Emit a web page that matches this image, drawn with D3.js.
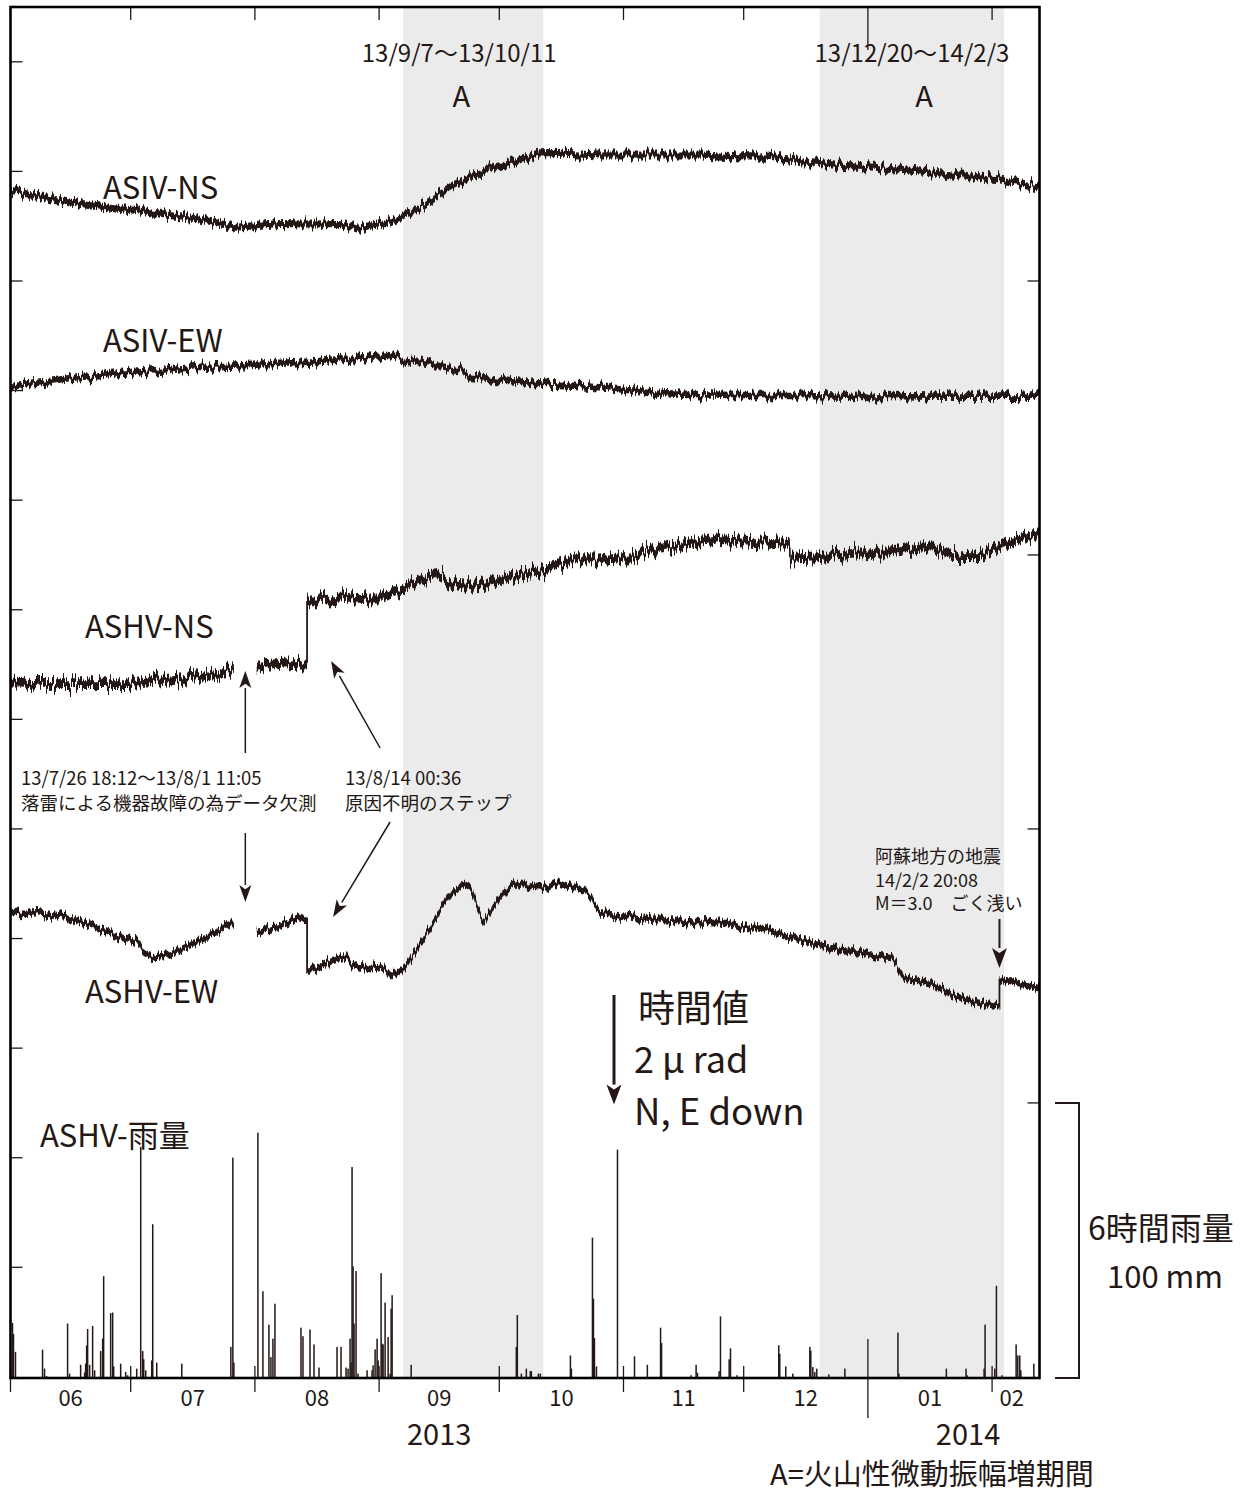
<!DOCTYPE html>
<html>
<head>
<meta charset="utf-8">
<script src="https://cdn.jsdelivr.net/npm/d3@7"></script>
<style>
  body { margin: 0; background: #fff; }
  svg text { font-family: "Noto Sans CJK JP", "Noto Sans", sans-serif; fill: #231815; }
</style>
</head>
<body>
<svg id="chart" width="1247" height="1493"></svg>
<script>
// ---- Tilt records (µrad change, positive = north / east down) ----
const traceNames = ["ASIV-NS", "ASIV-EW", "ASHV-NS", "ASHV-EW"];
// position of each record's first sample on the stacked µrad axis
const traceOffsets = [3.34, 6.93, 12.34, 16.54];
// half width of the short-period scatter around each record (µrad)
const traceScatter = [0.065, 0.06, 0.08, 0.06];

const asivNsDates = ["2013-06-01","2013-06-08","2013-06-15","2013-06-23","2013-07-01","2013-07-10","2013-07-18","2013-07-25","2013-07-27","2013-07-31","2013-08-07","2013-08-15","2013-08-22","2013-08-27","2013-08-30","2013-09-04","2013-09-09","2013-09-14","2013-09-19","2013-09-24","2013-09-29","2013-10-06","2013-10-11","2013-10-17","2013-10-26","2013-11-03","2013-11-11","2013-11-20","2013-11-28","2013-12-07","2013-12-15","2013-12-23","2013-12-31","2014-01-09","2014-01-17","2014-01-25","2014-02-03","2014-02-09","2014-02-12 20:00"];
const asivNsValues = [0,0.12,0.21,0.29,0.36,0.46,0.53,0.64,0.68,0.66,0.61,0.62,0.61,0.70,0.64,0.58,0.40,0.18,-0.06,-0.24,-0.40,-0.55,-0.66,-0.67,-0.64,-0.64,-0.64,-0.64,-0.61,-0.60,-0.52,-0.46,-0.43,-0.38,-0.33,-0.27,-0.20,-0.12,-0.07];

const asivEwDates = ["2013-06-01","2013-06-15","2013-07-01","2013-07-18","2013-08-04","2013-08-15","2013-08-25","2013-09-02","2013-09-06","2013-09-12","2013-09-21","2013-09-24","2013-10-01","2013-10-09","2013-10-17","2013-10-26","2013-11-03","2013-11-11","2013-11-28","2013-12-15","2013-12-31","2014-01-03","2014-01-06","2014-01-17","2014-02-03","2014-02-12 20:00"];
const asivEwValues = [0,-0.15,-0.27,-0.36,-0.41,-0.44,-0.50,-0.55,-0.52,-0.43,-0.32,-0.18,-0.12,-0.07,-0.03,0.01,0.07,0.12,0.15,0.15,0.17,0.22,0.17,0.18,0.18,0.18];

// null marks the outage 13/7/26 18:12 - 13/8/1 11:05
const ashvNsDates = ["2013-06-01","2013-06-15","2013-07-01","2013-07-11","2013-07-18","2013-07-23","2013-07-26 18:12","2013-07-29 00:00","2013-08-01 11:05","2013-08-07","2013-08-14 00:36","2013-08-14 00:37","2013-08-17","2013-08-25","2013-09-02","2013-09-06","2013-09-12","2013-09-15","2013-09-19","2013-09-26","2013-10-03","2013-10-09","2013-10-14","2013-10-19","2013-10-26","2013-11-03","2013-11-10","2013-11-18","2013-11-25","2013-12-05","2013-12-12 12:00","2013-12-12 13:00","2013-12-20","2013-12-28","2014-01-07","2014-01-17","2014-01-22","2014-01-29","2014-02-03","2014-02-08","2014-02-12 20:00"];
const ashvNsValues = [0,0.01,0.01,-0.06,-0.12,-0.19,-0.27,null,-0.33,-0.36,-0.39,-1.52,-1.52,-1.57,-1.55,-1.70,-1.89,-1.98,-1.82,-1.76,-1.92,-2.01,-2.10,-2.25,-2.25,-2.31,-2.46,-2.55,-2.62,-2.58,-2.55,-2.28,-2.31,-2.37,-2.40,-2.49,-2.31,-2.31,-2.49,-2.65,-2.71];

const ashvEwDates = ["2013-06-01","2013-06-08","2013-06-15","2013-06-21","2013-06-28","2013-07-03","2013-07-04","2013-07-07","2013-07-11","2013-07-18","2013-07-23","2013-07-26 18:12","2013-07-29 00:00","2013-08-01 11:05","2013-08-07","2013-08-13","2013-08-14 00:36","2013-08-14 00:37","2013-08-17","2013-08-20","2013-08-24","2013-08-25","2013-08-30","2013-09-02","2013-09-04","2013-09-08","2013-09-11","2013-09-16","2013-09-19","2013-09-22","2013-09-24","2013-09-27","2013-09-29","2013-10-03","2013-10-06","2013-10-09","2013-10-13","2013-10-16","2013-10-21","2013-10-24","2013-10-26","2013-11-03","2013-11-11","2013-11-20","2013-11-25","2013-11-28","2013-12-07","2013-12-15","2013-12-23","2013-12-31","2014-01-07","2014-01-10","2014-01-17","2014-01-22","2014-01-27","2014-02-02 20:08","2014-02-02 20:09","2014-02-08","2014-02-12 20:00"];
const ashvEwValues = [0,-0.02,0.06,0.21,0.43,0.53,0.67,0.81,0.73,0.52,0.30,0.18,null,0.34,0.24,0.06,0.06,1.03,1.00,0.88,0.79,0.94,1.00,0.97,1.16,0.94,0.58,-0.03,-0.39,-0.55,-0.46,0.18,-0.06,-0.46,-0.55,-0.49,-0.46,-0.58,-0.43,-0.33,0,0.06,0.12,0.18,0.12,0.21,0.30,0.49,0.64,0.73,0.82,1.19,1.28,1.49,1.61,1.70,1.19,1.28,1.37];

// ---- ASHV 6-hour rainfall (mm) ----
const rainTimes = ["2013-06-01 12","2013-06-01 18","2013-06-02 06","2013-06-09 00","2013-06-09 12","2013-06-10 00","2013-06-15 06","2013-06-15 18","2013-06-18 12","2013-06-19 12","2013-06-19 18","2013-06-20 00","2013-06-20 06","2013-06-20 18","2013-06-21 12","2013-06-22 00","2013-06-23 12","2013-06-24 00","2013-06-24 06","2013-06-26 00","2013-06-26 12","2013-06-26 18","2013-06-28 12","2013-06-29 18","2013-06-30 06","2013-07-02 12","2013-07-03 12","2013-07-04 00","2013-07-04 06","2013-07-04 18","2013-07-06 06","2013-07-06 12","2013-07-07 12","2013-07-13 18","2013-07-26 00","2013-07-26 12","2013-07-26 18","2013-08-01 18","2013-08-03 00","2013-08-04 12","2013-08-05 00","2013-08-05 12","2013-08-06 00","2013-08-12 12","2013-08-13 00","2013-08-14 18","2013-08-15 18","2013-08-17 00","2013-08-21 12","2013-08-22 12","2013-08-23 18","2013-08-24 06","2013-08-24 18","2013-08-25 00","2013-08-25 06","2013-08-25 12","2013-08-25 18","2013-08-26 06","2013-08-26 18","2013-08-29 00","2013-08-30 06","2013-08-30 12","2013-08-31 00","2013-08-31 12","2013-08-31 18","2013-09-01 12","2013-09-01 18","2013-09-02 00","2013-09-02 12","2013-09-03 06","2013-09-03 18","2013-09-04 00","2013-09-04 06","2013-09-09 00","2013-10-05 06","2013-10-05 12","2013-10-06 12","2013-10-07 18","2013-10-08 18","2013-10-09 00","2013-10-10 18","2013-10-11 06","2013-10-18 18","2013-10-19 00","2013-10-24 06","2013-10-24 12","2013-10-24 18","2013-10-25 06","2013-10-30 12","2013-11-03 18","2013-11-06 23","2013-11-10 06","2013-11-10 12","2013-11-17 21","2013-11-19 03","2013-11-19 11","2013-11-24 21","2013-11-25 05","2013-11-27 09","2013-11-27 17","2013-11-29 08","2013-12-09 18","2013-12-10 00","2013-12-11 12","2013-12-13 06","2013-12-17 12","2013-12-17 18","2013-12-18 06","2013-12-18 18","2013-12-19 06","2013-12-22 06","2013-12-26 06","2014-01-08 12","2014-01-08 18","2014-01-20 14","2014-01-25 12","2014-01-25 18","2014-01-30 00","2014-01-30 06","2014-02-01 16","2014-02-02 02","2014-02-03 11","2014-02-07 00","2014-02-07 10","2014-02-07 22","2014-02-08 04","2014-02-11 10"];
const rainMm = [20,16,9.5,10.3,3.4,0.7,19.8,1.6,4.8,2,5.2,11.8,17.8,4.8,18.9,2.8,9.8,14.3,37,23.6,23.8,4.2,5.2,2.2,1,3.4,84,9.8,6.8,2.8,6.4,55.9,5.6,5.2,11.3,80.1,5.6,89.2,31.5,19.4,7.6,14.3,27,18.3,15.2,17.6,12.2,3.8,11.3,11.3,3.8,3.4,14.3,5.6,76.7,40.6,19.8,38.9,1.6,2.8,2.8,4.6,10.4,14.3,6.4,38.1,12.5,12.2,27.4,14.9,1.6,25.2,30.1,4.8,11.3,22.9,1.6,3.4,2.5,2.5,1.6,1.6,8.2,3.4,51,28.8,14.5,4.2,83,7.9,4.8,18.3,12.7,1,4.8,1.9,2.5,22.4,6.8,10.8,1,11.9,8.8,4.2,1.6,11.3,10,4,2.2,3.4,1.3,3.4,16.5,1.6,3.4,3.4,1,3.4,19.4,3.4,33.5,1,12.2,8.2,8.2,2.8,5.2];

// ---- Periods of raised volcanic tremor amplitude ("A") ----
const bandStarts = ["2013-09-07", "2013-12-20"];
const bandEnds = ["2013-10-12", "2014-02-04"];
const bandTexts = ["13/9/7～13/10/11", "13/12/20～14/2/3"];
const bandLabelDates = ["2013-09-21", "2014-01-12"];

const monthLabels = ["06", "07", "08", "09", "10", "11", "12", "01", "02"];
const yearLabels = ["2013", "2014"];
const yearLabelDates = ["2013-09-16", "2014-01-26"];

const gapStart = "2013-07-26 18:12", gapEnd = "2013-08-01 11:05";
const stepTime = "2013-08-14 00:36";
const quakeTime = "2014-02-02 20:08";

// ---- parsing ----
const fmts = ["%Y-%m-%d %H:%M", "%Y-%m-%d %H", "%Y-%m-%d"].map(f => d3.utcParse(f));
const parseT = s => { for (const f of fmts) { const d = f(s); if (d) return d; } return null; };

// ---- scales ----
const ink = "#231815";
const svg = d3.select("#chart");
const L = 10.5, R = 1039.5, T = 7, B = 1378;
const x = d3.scaleUtc()
  .domain([parseT("2013-06-01"), parseT("2014-02-12 20:00")])
  .range([L, R]);
// stacked tilt axis: 0 at top, µrad increase downward
const y = d3.scaleLinear().domain([0, 25.02]).range([T, B]);
// rainfall: 100 mm spans the bracket on the right
const yRain = d3.scaleLinear().domain([0, 100]).range([B, y(20)]);

// short-period jitter of the minute samples, drawn as a vertical texture
const defs = svg.append("defs");
[["jitterLow", 16, 0.42], ["jitterMid", 15, 0.45], ["jitterHigh", 24, 0.5]].forEach(([id, amp, fx]) => {
  const f = defs.append("filter").attr("id", id)
    .attr("x", "-2%").attr("y", "-60%").attr("width", "104%").attr("height", "220%")
    .attr("color-interpolation-filters", "sRGB");
  f.append("feTurbulence").attr("type", "fractalNoise")
    .attr("baseFrequency", `${fx} 0.004`).attr("numOctaves", 2).attr("seed", 7).attr("result", "n");
  f.append("feColorMatrix").attr("in", "n").attr("type", "matrix")
    .attr("values", "1 0 0 0 0  0 0 0 0 0.5  0 0 0 0 0  0 0 0 0 1").attr("result", "m");
  f.append("feDisplacementMap").attr("in", "SourceGraphic").attr("in2", "m")
    .attr("scale", amp).attr("xChannelSelector", "G").attr("yChannelSelector", "R");
});

// shaded A periods
svg.append("g").selectAll("rect").data(bandStarts).join("rect")
  .attr("x", d => x(parseT(d)))
  .attr("width", (d, i) => x(parseT(bandEnds[i])) - x(parseT(d)))
  .attr("y", T).attr("height", B - T)
  .attr("fill", "#ebebeb");

// rain bars
const rain = rainTimes.map((t, i) => ({ t: parseT(t), v: rainMm[i] }));
svg.append("g").selectAll("rect").data(rain).join("rect")
  .attr("x", d => x(d.t) - 0.75)
  .attr("width", 1.5)
  .attr("y", d => yRain(d.v))
  .attr("height", d => B - yRain(d.v))
  .attr("fill", ink);

// tilt records
const series = [
  [asivNsDates, asivNsValues],
  [asivEwDates, asivEwValues],
  [ashvNsDates, ashvNsValues],
  [ashvEwDates, ashvEwValues]
];
const jitterOf = ["jitterLow", "jitterLow", "jitterHigh", "jitterMid"];
series.forEach(([dates, vals], k) => {
  const pts = dates.map((t, i) => ({ t: parseT(t), v: vals[i] }));
  const off = traceOffsets[k], s = traceScatter[k];
  const area = d3.area()
    .defined(d => d.v !== null)
    .x(d => x(d.t))
    .y0(d => y(off + d.v - s))
    .y1(d => y(off + d.v + s));
  const line = d3.line()
    .defined(d => d.v !== null)
    .x(d => x(d.t))
    .y(d => y(off + d.v));
  const g = svg.append("g").attr("filter", `url(#${jitterOf[k]})`);
  g.append("path").datum(pts).attr("d", area).attr("fill", ink);
  g.append("path").datum(pts).attr("d", line)
    .attr("fill", "none").attr("stroke", ink).attr("stroke-width", 1.8);
});

// ---- frame and ticks ----
const monthStarts = d3.utcMonth.range(parseT("2013-06-01"), parseT("2014-02-12 20:00"));
const isYear = d => d.getUTCMonth() === 0;
const ticks = svg.append("g").attr("stroke", ink).attr("stroke-width", 1.3);
monthStarts.forEach(d => {
  const xx = x(d);
  if (xx > L + 2) {
    ticks.append("line").attr("x1", xx).attr("x2", xx).attr("y1", T).attr("y2", T + (isYear(d) ? 43 : 13));
  }
  ticks.append("line").attr("x1", xx).attr("x2", xx)
    .attr("y1", B - (isYear(d) ? 39 : 12)).attr("y2", B + (isYear(d) ? 40 : 14));
});
d3.range(1, 24, 2).forEach(v => {
  ticks.append("line").attr("x1", L).attr("x2", L + 12).attr("y1", y(v)).attr("y2", y(v));
});
[5, 10, 15, 20].forEach(v => {
  ticks.append("line").attr("x1", R - 12).attr("x2", R).attr("y1", y(v)).attr("y2", y(v));
});
svg.append("rect").attr("x", L).attr("y", T).attr("width", R - L).attr("height", B - T)
  .attr("fill", "none").attr("stroke", "#000").attr("stroke-width", 2.6);

// month / year labels
const monthEdges = monthStarts.concat([x.domain()[1]]);
svg.append("g").selectAll("text").data(monthLabels).join("text")
  .attr("x", (d, i) => (x(monthEdges[i]) + x(monthEdges[i + 1])) / 2 - (i === monthLabels.length - 1 ? 4 : 0))
  .attr("y", 1406).attr("text-anchor", "middle").attr("font-size", 22)
  .text(d => d);
svg.append("g").selectAll("text").data(yearLabels).join("text")
  .attr("x", (d, i) => x(parseT(yearLabelDates[i])))
  .attr("y", 1445).attr("text-anchor", "middle").attr("font-size", 29)
  .text(d => d);
svg.append("text").attr("x", 770).attr("y", 1485).attr("font-size", 29)
  .text("A=火山性微動振幅増期間");

// A period labels
bandTexts.forEach((t, i) => {
  const cx = x(parseT(bandLabelDates[i]));
  svg.append("text").attr("x", cx).attr("y", 62).attr("text-anchor", "middle")
    .attr("font-size", 24).text(t);
  svg.append("text").attr("x", cx + (i ? 12 : 2)).attr("y", 107).attr("text-anchor", "middle")
    .attr("font-size", 29).text("A");
});

// record names
const nameX = [103, 103, 85, 85];
const nameY = [199, 352, 638, 1003];
traceNames.forEach((n, i) => {
  svg.append("text").attr("x", nameX[i]).attr("y", nameY[i]).attr("font-size", 31).text(n);
});
svg.append("text").attr("x", 40).attr("y", 1147).attr("font-size", 31).text("ASHV-雨量");

// ---- arrows ----
function arrow(x1, y1, x2, y2, len, half, width) {
  const a = Math.atan2(y2 - y1, x2 - x1);
  const bx = x2 - len * Math.cos(a), by = y2 - len * Math.sin(a);
  const g = svg.append("g");
  g.append("line").attr("x1", x1).attr("y1", y1).attr("x2", bx).attr("y2", by)
    .attr("stroke", ink).attr("stroke-width", width);
  const px = -Math.sin(a) * half, py = Math.cos(a) * half;
  g.append("path")
    .attr("d", `M${x2},${y2}L${bx + px},${by + py}L${bx + len * 0.25 * Math.cos(a)},${by + len * 0.25 * Math.sin(a)}L${bx - px},${by - py}Z`)
    .attr("fill", ink);
}
const gapMid = new Date((parseT(gapStart).getTime() + parseT(gapEnd).getTime()) / 2);
arrow(x(gapMid), 753, x(gapMid), 671, 17, 6, 1.5);
arrow(x(gapMid), 833, x(gapMid), 902, 17, 6, 1.5);
const xs = x(parseT(stepTime));
arrow(xs + 73, 748, xs + 24, 661, 17, 6, 1.5);
arrow(xs + 83, 822, xs + 26, 917, 17, 6, 1.5);
const xq = x(parseT(quakeTime));
arrow(xq, 919, xq, 968, 20, 7.5, 2);

// 2 µrad scale arrow
arrow(614, 995, 614, 995 + (y(2) - y(0)), 20, 7.5, 3);
svg.append("text").attr("x", 638).attr("y", 1022).attr("font-size", 37).text("時間値");
svg.append("text").attr("x", 634).attr("y", 1073).attr("font-size", 36).text("2 μ rad");
svg.append("text").attr("x", 634).attr("y", 1125).attr("font-size", 36.5).text("N, E down");

// rainfall scale bracket
svg.append("path").attr("d", `M1055,${yRain(100)}H1079V${B}H1055`)
  .attr("fill", "none").attr("stroke", ink).attr("stroke-width", 2);
svg.append("text").attr("x", 1161).attr("y", 1240).attr("text-anchor", "middle")
  .attr("font-size", 32).text("6時間雨量");
svg.append("text").attr("x", 1165).attr("y", 1288).attr("text-anchor", "middle")
  .attr("font-size", 31).text("100 mm");

// ---- annotations ----
const note = (lines, x0, y0, lh, fs) => lines.forEach((t, i) =>
  svg.append("text").attr("x", x0).attr("y", y0 + i * lh).attr("font-size", fs).text(t));
note(["13/7/26 18:12～13/8/1 11:05", "落雷による機器故障の為データ欠測"], 21, 785, 25, 18.5);
note(["13/8/14 00:36", "原因不明のステップ"], 345, 785, 25, 18.5);
note(["阿蘇地方の地震", "14/2/2 20:08", "M＝3.0　ごく浅い"], 875, 863, 23.5, 18);
</script>
</body>
</html>
